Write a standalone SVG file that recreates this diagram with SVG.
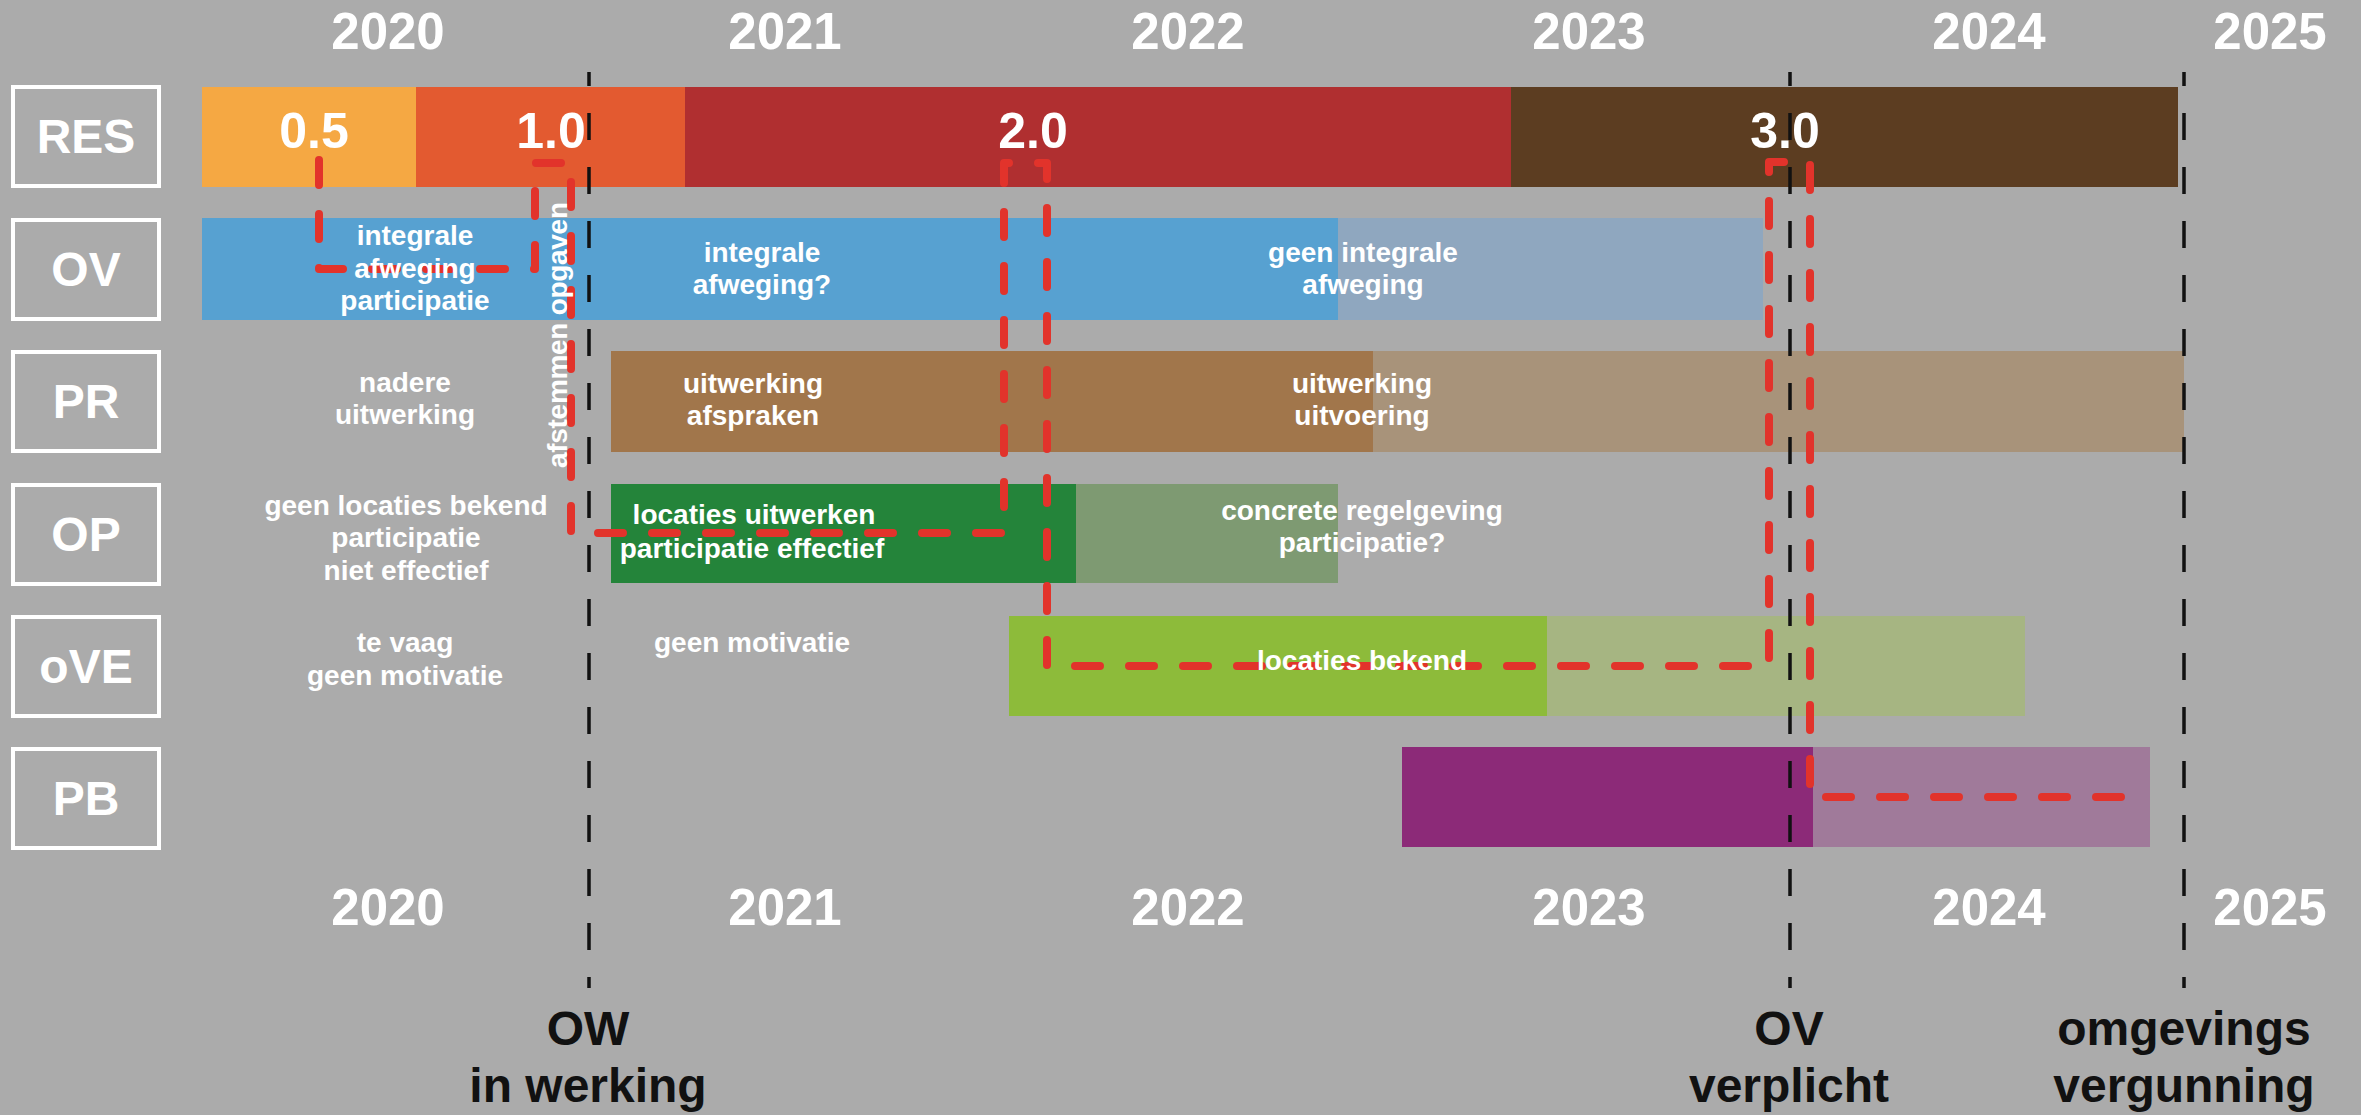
<svg xmlns="http://www.w3.org/2000/svg" width="2361" height="1115" viewBox="0 0 2361 1115">
<style>
.bg{fill:#ABABAB}
.box{fill:none;stroke:#FFFFFF;stroke-width:4}
.lbl{font-family:"Liberation Sans",Arial,sans-serif;font-weight:bold;font-size:48px;fill:#FFFFFF;text-anchor:middle}
.yr{font-family:"Liberation Sans",Arial,sans-serif;font-weight:bold;font-size:51px;fill:#FFFFFF;text-anchor:middle}
.ver{font-family:"Liberation Sans",Arial,sans-serif;font-weight:bold;font-size:50px;fill:#FFFFFF;text-anchor:middle}
.t{font-family:"Liberation Sans",Arial,sans-serif;font-weight:bold;font-size:28px;fill:#FFFFFF;text-anchor:middle}
.ms{font-family:"Liberation Sans",Arial,sans-serif;font-weight:bold;font-size:48px;fill:#111111;text-anchor:middle}
.red{fill:none;stroke:#E2332B;stroke-width:8;stroke-linecap:round;stroke-linejoin:round;stroke-dasharray:25 29}
.blk{fill:none;stroke:#111111;stroke-width:3.5;stroke-dasharray:27 27;stroke-dashoffset:13}
</style>
<rect class="bg" x="0" y="0" width="2361" height="1115"/>

<g id="years-top">
<text class="yr" x="388" y="49">2020</text>
<text class="yr" x="785" y="49">2021</text>
<text class="yr" x="1188" y="49">2022</text>
<text class="yr" x="1589" y="49">2023</text>
<text class="yr" x="1989" y="49">2024</text>
<text class="yr" x="2270" y="49">2025</text>
</g>
<g id="years-bottom">
<text class="yr" x="388" y="925">2020</text>
<text class="yr" x="785" y="925">2021</text>
<text class="yr" x="1188" y="925">2022</text>
<text class="yr" x="1589" y="925">2023</text>
<text class="yr" x="1989" y="925">2024</text>
<text class="yr" x="2270" y="925">2025</text>
</g>

<g id="row-RES">
<rect class="box" x="13" y="87" width="146" height="99"/>
<text class="lbl" x="86" y="153">RES</text>
<rect x="202" y="87" width="214" height="100" fill="#F5A843"/>
<rect x="416" y="87" width="269" height="100" fill="#E35A30"/>
<rect x="685" y="87" width="826" height="100" fill="#B02F30"/>
<rect x="1511" y="87" width="667" height="100" fill="#5C3D21"/>
</g>
<g id="row-OV">
<rect class="box" x="13" y="220" width="146" height="99"/>
<text class="lbl" x="86" y="286">OV</text>
<rect x="202" y="218" width="1136" height="102" fill="#57A1D1"/>
<rect x="1338" y="218" width="425" height="102" fill="#8FA7BF"/>
</g>
<g id="row-PR">
<rect class="box" x="13" y="352" width="146" height="99"/>
<text class="lbl" x="86" y="418">PR</text>
<rect x="611" y="351" width="762" height="101" fill="#A1764B"/>
<rect x="1373" y="351" width="811" height="101" fill="#A8937A"/>
</g>
<g id="row-OP">
<rect class="box" x="13" y="485" width="146" height="99"/>
<text class="lbl" x="86" y="551">OP</text>
<rect x="611" y="484" width="465" height="99" fill="#24843A"/>
<rect x="1076" y="484" width="262" height="99" fill="#7E9A72"/>
</g>
<g id="row-oVE">
<rect class="box" x="13" y="617" width="146" height="99"/>
<text class="lbl" x="86" y="683">oVE</text>
<rect x="1009" y="616" width="538" height="100" fill="#8DBB3A"/>
<rect x="1547" y="616" width="478" height="100" fill="#A6B582"/>
</g>
<g id="row-PB">
<rect class="box" x="13" y="749" width="146" height="99"/>
<text class="lbl" x="86" y="815">PB</text>
<rect x="1402" y="747" width="411" height="100" fill="#8C2A78"/>
<rect x="1813" y="747" width="337" height="100" fill="#A07A9A"/>
</g>

<g id="connectors">
<path class="red" d="M319 160 V269 H535 V163 H571 V533 H1004 V163 H1047 V666 H1769 V162 H1810 V797 H2134"/>
</g>

<g id="labels">
<text class="ver" x="314" y="148">0.5</text>
<text class="ver" x="551" y="148">1.0</text>
<text class="ver" x="1033" y="148">2.0</text>
<text class="ver" x="1785" y="148">3.0</text>

<text class="t" x="415" y="245">integrale</text>
<text class="t" x="415" y="278">afweging</text>
<text class="t" x="415" y="310">participatie</text>
<text class="t" x="762" y="262">integrale</text>
<text class="t" x="762" y="294">afweging?</text>
<text class="t" x="1363" y="262">geen integrale</text>
<text class="t" x="1363" y="294">afweging</text>

<text class="t" x="405" y="392">nadere</text>
<text class="t" x="405" y="424">uitwerking</text>
<text class="t" x="753" y="393">uitwerking</text>
<text class="t" x="753" y="425">afspraken</text>
<text class="t" x="1362" y="393">uitwerking</text>
<text class="t" x="1362" y="425">uitvoering</text>

<text class="t" x="406" y="515">geen locaties bekend</text>
<text class="t" x="406" y="547">participatie</text>
<text class="t" x="406" y="580">niet effectief</text>
<text class="t" x="754" y="524">locaties uitwerken</text>
<text class="t" x="752" y="558">participatie effectief</text>
<text class="t" x="1362" y="520">concrete regelgeving</text>
<text class="t" x="1362" y="552">participatie?</text>

<text class="t" x="405" y="652">te vaag</text>
<text class="t" x="405" y="685">geen motivatie</text>
<text class="t" x="752" y="652">geen motivatie</text>
<text class="t" x="1362" y="670">locaties bekend</text>

<text class="t" x="0" y="0" font-size="25" textLength="266" lengthAdjust="spacing" transform="translate(567 335) rotate(-90)">afstemmen opgaven</text>
</g>

<g id="milestones">
<line class="blk" x1="589" y1="72" x2="589" y2="988"/>
<line class="blk" x1="1790" y1="72" x2="1790" y2="988"/>
<line class="blk" x1="2184" y1="72" x2="2184" y2="988"/>
<text class="ms" x="588" y="1045">OW</text>
<text class="ms" x="588" y="1102">in werking</text>
<text class="ms" x="1789" y="1045">OV</text>
<text class="ms" x="1789" y="1102">verplicht</text>
<text class="ms" x="2184" y="1045">omgevings</text>
<text class="ms" x="2184" y="1102">vergunning</text>
</g>
</svg>
